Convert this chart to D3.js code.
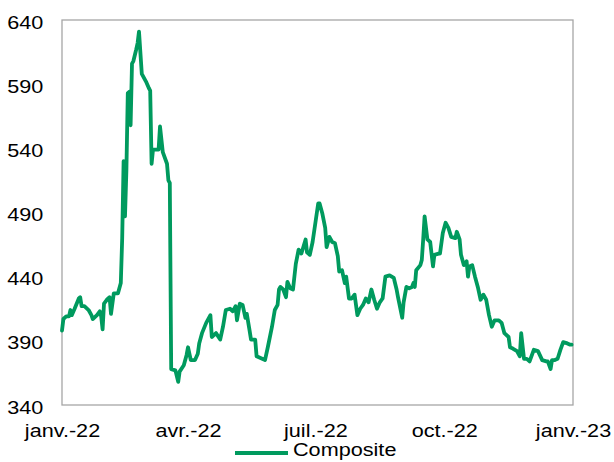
<!DOCTYPE html>
<html>
<head>
<meta charset="utf-8">
<script src="https://cdn.jsdelivr.net/npm/d3@7"></script>
<style>
  html, body { margin: 0; padding: 0; background: #fff; }
  #chart { width: 614px; height: 462px; }
  svg { display: block; font-family: "Liberation Sans", Arial, sans-serif; }
</style>
</head>
<body>
<div id="chart"><svg id="plot" width="614" height="462"></svg></div>
<script>
// Composite index, daily-ish values (2022)
const dates = [
  '2022-01-01','2022-01-02','2022-01-04','2022-01-06','2022-01-07','2022-01-08','2022-01-10','2022-01-13','2022-01-14','2022-01-15',
  '2022-01-17','2022-01-20','2022-01-22','2022-01-23','2022-01-26','2022-01-28','2022-01-29','2022-01-30','2022-01-31','2022-02-02',
  '2022-02-04','2022-02-05','2022-02-07','2022-02-09','2022-02-10','2022-02-12','2022-02-13','2022-02-14','2022-02-15','2022-02-16',
  '2022-02-17','2022-02-18','2022-02-19','2022-02-20','2022-02-21','2022-02-23','2022-02-24','2022-02-25','2022-02-27','2022-03-02',
  '2022-03-04','2022-03-05','2022-03-06','2022-03-07','2022-03-11','2022-03-12','2022-03-14','2022-03-17','2022-03-18','2022-03-19',
  '2022-03-20','2022-03-23','2022-03-25','2022-03-26','2022-03-29','2022-03-31','2022-04-01','2022-04-03','2022-04-06','2022-04-08',
  '2022-04-09','2022-04-11','2022-04-14','2022-04-17','2022-04-18','2022-04-21','2022-04-24','2022-04-26','2022-04-28','2022-05-01',
  '2022-05-03','2022-05-05','2022-05-06','2022-05-08','2022-05-10','2022-05-12','2022-05-13','2022-05-15','2022-05-16','2022-05-19',
  '2022-05-20','2022-05-22','2022-05-26','2022-05-28','2022-05-31','2022-06-02','2022-06-04','2022-06-05','2022-06-06','2022-06-08',
  '2022-06-10','2022-06-11','2022-06-13','2022-06-15','2022-06-17','2022-06-19','2022-06-21','2022-06-24','2022-06-25','2022-06-27',
  '2022-06-29','2022-07-01','2022-07-03','2022-07-04','2022-07-06','2022-07-08','2022-07-09','2022-07-11','2022-07-13','2022-07-15',
  '2022-07-17','2022-07-18','2022-07-20','2022-07-22','2022-07-23','2022-07-25','2022-07-27','2022-07-29','2022-07-31','2022-08-02',
  '2022-08-04','2022-08-06','2022-08-08','2022-08-10','2022-08-12','2022-08-14','2022-08-16','2022-08-18','2022-08-20','2022-08-23',
  '2022-08-26','2022-08-28','2022-08-29','2022-09-01','2022-09-02','2022-09-04','2022-09-06','2022-09-08','2022-09-09','2022-09-10',
  '2022-09-11','2022-09-14','2022-09-15','2022-09-16','2022-09-17','2022-09-19','2022-09-21','2022-09-23','2022-09-24','2022-09-27',
  '2022-09-28','2022-09-30','2022-10-02','2022-10-04','2022-10-06','2022-10-09','2022-10-10','2022-10-12','2022-10-13','2022-10-15',
  '2022-10-17','2022-10-18','2022-10-19','2022-10-21','2022-10-23','2022-10-25','2022-10-27','2022-10-29','2022-10-31','2022-11-02',
  '2022-11-04','2022-11-06','2022-11-09','2022-11-11','2022-11-13','2022-11-16','2022-11-17','2022-11-19','2022-11-22','2022-11-24',
  '2022-11-25','2022-11-27','2022-11-29','2022-12-01','2022-12-04','2022-12-07','2022-12-10','2022-12-13','2022-12-14','2022-12-16',
  '2022-12-17','2022-12-19','2022-12-21','2022-12-23','2022-12-25','2022-12-28','2022-12-30','2022-12-31'
];
const compositeValues = [
  398, 407, 409, 409, 414, 410, 415, 423, 424, 417,
  417, 414, 410, 407, 410, 413, 409, 399, 419, 422,
  424, 411, 427, 427, 427, 435, 470, 530, 487, 523,
  583, 584, 558, 606, 608, 617, 622, 631, 598, 592,
  587, 585, 528, 539, 539, 557, 537, 528, 515, 513,
  368, 367, 358, 366, 371, 379, 385, 375, 375, 380,
  388, 396, 404, 410, 393, 396, 391, 401, 414, 415,
  413, 417, 406, 419, 418, 408, 411, 398, 391, 391,
  378, 377, 375, 385, 401, 414, 418, 430, 432, 430,
  424, 436, 431, 430, 450, 461, 458, 469, 459, 457,
  467, 482, 497, 497, 489, 478, 463, 471, 467, 466,
  456, 444, 445, 435, 440, 423, 423, 426, 410, 415,
  418, 423, 420, 430, 422, 415, 420, 423, 440, 441,
  439, 430, 424, 408, 420, 432, 431, 432, 435, 432,
  445, 449, 453, 469, 487, 469, 467, 448, 457, 458,
  458, 474, 482, 478, 471, 470, 475, 469, 457, 449,
  452, 440, 448, 449, 440, 432, 422, 426, 422, 410,
  401, 406, 406, 404, 396, 393, 385, 384, 382, 378,
  396, 376, 376, 374, 383, 382, 375, 374, 374, 368,
  375, 375, 376, 383, 389, 388, 387, 387
];
const yTicks = [340, 390, 440, 490, 540, 590, 640];
const xTickDates = ['2022-01-01', '2022-04-01', '2022-07-01', '2022-10-01', '2023-01-01'];
const xTickLabels = ['janv.-22', 'avr.-22', 'juil.-22', 'oct.-22', 'janv.-23'];
const seriesName = 'Composite';

const width = 614, height = 462;
const margins = { top: 20, right: 41, bottom: 57, left: 62 };
const innerW = width - margins.left - margins.right;
const innerH = height - margins.top - margins.bottom;
const lineColor = '#009a5e';
const fontSize = 18.5;
const stretch = 1.17; // reference text is a little wider than Liberation Sans

const parse = d3.timeParse('%Y-%m-%d');
const data = dates.map((d, i) => ({ date: parse(d), value: compositeValues[i] }));

const svg = d3.select('#plot');
const g = svg.append('g').attr('transform', `translate(${margins.left},${margins.top})`);

const x = d3.scaleTime().domain([parse(xTickDates[0]), parse(xTickDates[xTickDates.length - 1])]).range([0, innerW]);
const y = d3.scaleLinear().domain([340, 640]).range([innerH, 0]);

// plot area frame
g.append('rect')
  .attr('x', 0).attr('y', 0).attr('width', innerW).attr('height', innerH)
  .attr('fill', 'none').attr('stroke', '#a6a6a6').attr('stroke-width', 1.3);

// y axis labels (no tick marks, no domain line)
g.append('g')
  .call(d3.axisLeft(y).tickValues(yTicks).tickSize(0).tickPadding(16))
  .call(a => a.select('.domain').remove())
  .call(a => a.selectAll('text').attr('font-size', fontSize).attr('fill', '#000').attr('dy', 8)
    .attr('font-family', '"Liberation Sans", Arial, sans-serif')
    .attr('transform', `scale(${stretch},1)`));

// x axis labels
g.append('g')
  .attr('transform', `translate(0,${innerH})`)
  .call(d3.axisBottom(x).tickValues(xTickDates.map(parse)).tickSize(0).tickPadding(0)
    .tickFormat((d, i) => xTickLabels[i]))
  .call(a => a.select('.domain').remove())
  .call(a => a.selectAll('text').attr('font-size', fontSize).attr('fill', '#000').attr('dy', 32)
    .attr('font-family', '"Liberation Sans", Arial, sans-serif')
    .attr('transform', `scale(${stretch},1)`));

// series line
const line = d3.line().x(d => x(d.date)).y(d => y(d.value));
g.append('path')
  .datum(data)
  .attr('d', line)
  .attr('fill', 'none')
  .attr('stroke', lineColor)
  .attr('stroke-width', 3.8)
  .attr('stroke-linejoin', 'round')
  .attr('stroke-linecap', 'round');

// legend
const legend = svg.append('g').attr('transform', 'translate(235,453)');
legend.append('line').attr('x1', 0).attr('x2', 53).attr('y1', 0).attr('y2', 0)
  .attr('stroke', lineColor).attr('stroke-width', 4);
legend.append('text').attr('transform', `translate(58,3) scale(${stretch},1)`)
  .attr('font-size', fontSize).attr('fill', '#000')
  .text(seriesName);
</script>
</body>
</html>
